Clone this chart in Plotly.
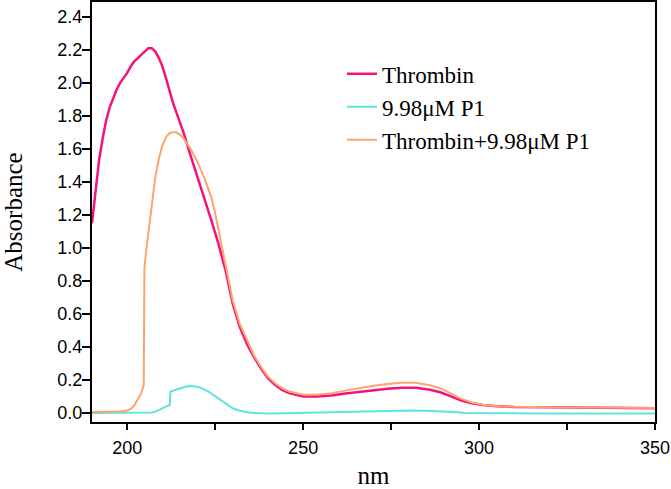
import plotly.graph_objects as go

# Thrombin
wl_thrombin = [190, 191, 192, 193, 194, 195, 196, 197, 198, 199, 200, 201, 202, 203, 204,
               205, 206, 207, 208, 209, 210, 211, 212, 213, 214, 216, 218, 220, 222, 224,
               226, 228, 230, 232, 234, 236, 238, 240, 242, 244, 246, 248, 250, 254, 258,
               262, 266, 270, 274, 278, 282, 286, 289, 292, 295, 298, 301, 305, 310, 320,
               330, 340, 350]
abs_thrombin = [1.15, 1.35, 1.53, 1.66, 1.77, 1.85, 1.91, 1.96, 2.00, 2.03, 2.06, 2.10, 2.13, 2.15, 2.17,
                2.19, 2.21, 2.21, 2.19, 2.15, 2.10, 2.03, 1.95, 1.88, 1.82, 1.70, 1.56, 1.43, 1.29, 1.16,
                1.02, 0.86, 0.66, 0.52, 0.42, 0.34, 0.27, 0.21, 0.17, 0.14, 0.12, 0.11, 0.10, 0.10, 0.105,
                0.118, 0.128, 0.138, 0.147, 0.153, 0.153, 0.14, 0.125, 0.10, 0.075, 0.058, 0.048, 0.04, 0.036, 0.034,
                0.032, 0.03, 0.028]

# 9.98uM P1
wl_p1 = [190, 200, 205, 207, 208, 209, 210, 211, 212.1, 212.3, 213, 214, 215, 216, 217,
         218, 219, 220, 221, 222, 223, 224, 225, 226, 227, 228, 229, 230, 232, 234,
         236, 240, 245, 250, 255, 260, 265, 270, 275, 280, 285, 290, 294, 296, 300,
         320, 350]
abs_p1 = [0.0, 0.0, 0.0, 0.003, 0.008, 0.016, 0.028, 0.038, 0.048, 0.13, 0.135, 0.145, 0.152, 0.158, 0.162,
          0.163, 0.162, 0.158, 0.152, 0.143, 0.13, 0.116, 0.101, 0.085, 0.068, 0.053, 0.04, 0.028, 0.013, 0.004,
          0.0, -0.003, -0.002, 0.0, 0.004, 0.007, 0.01, 0.012, 0.014, 0.014, 0.013, 0.01, 0.004, -0.001, -0.002,
          -0.003, -0.003]

# Thrombin + 9.98uM P1
wl_mix = [190, 195, 198, 200, 201, 202, 203, 204, 204.7, 204.9, 205.5, 206, 207, 208, 209,
          210, 211, 212, 213, 214, 215, 216, 218, 220, 222, 223, 224, 225, 226, 227,
          228, 230, 232, 234, 236, 238, 240, 242, 244, 246, 248, 250, 254, 258, 262,
          266, 270, 274, 278, 282, 286, 289, 292, 295, 298, 301, 305, 310, 320, 330,
          340, 350]
abs_mix = [0.005, 0.006, 0.008, 0.015, 0.025, 0.045, 0.08, 0.12, 0.17, 0.88, 1.0, 1.09, 1.28, 1.43, 1.54,
           1.62, 1.67, 1.695, 1.70, 1.70, 1.685, 1.665, 1.60, 1.52, 1.42, 1.36, 1.30, 1.21, 1.10, 0.99,
           0.89, 0.68, 0.54, 0.44, 0.35, 0.28, 0.22, 0.18, 0.15, 0.13, 0.12, 0.11, 0.11, 0.12, 0.135,
           0.152, 0.165, 0.175, 0.183, 0.183, 0.168, 0.15, 0.115, 0.085, 0.063, 0.05, 0.041, 0.037, 0.035, 0.033,
           0.031, 0.03]

serif = "Liberation Serif, Times New Roman, serif"
sans = "Liberation Sans, Arial, sans-serif"

fig = go.Figure()
fig.add_trace(go.Scatter(x=wl_thrombin, y=abs_thrombin, mode="lines", name="Thrombin",
                         line=dict(color="#f5127c", width=2.5)))
fig.add_trace(go.Scatter(x=wl_p1, y=abs_p1, mode="lines", name="9.98μM P1",
                         line=dict(color="#5ee3de", width=2)))
fig.add_trace(go.Scatter(x=wl_mix, y=abs_mix, mode="lines", name="Thrombin+9.98μM P1",
                         line=dict(color="#fba46c", width=2)))

fig.update_layout(
    width=671, height=489,
    margin=dict(l=92, r=16, t=2, b=67),
    plot_bgcolor="white", paper_bgcolor="white",
    legend=dict(x=0.444, y=0.88, xanchor="left", yanchor="top",
                font=dict(family=serif, size=23, color="black"),
                bgcolor="rgba(0,0,0,0)"),
)
fig.update_xaxes(
    range=[190, 350], tick0=200, dtick=50,
    ticks="outside", ticklen=6, tickwidth=1.5, tickcolor="black",
    minor=dict(dtick=25, ticks="outside", ticklen=6, tickwidth=1.5, tickcolor="black"),
    showline=True, linewidth=2, linecolor="black", mirror=True,
    showgrid=False, zeroline=False, ticklabelstandoff=2, automargin=False,
    tickfont=dict(family=sans, size=18, color="black"),
    title=dict(text="nm", font=dict(family=serif, size=25, color="black"), standoff=30),
)
fig.update_yaxes(
    range=[-0.055, 2.49], tick0=0, dtick=0.2, tickformat=".1f",
    ticks="outside", ticklen=8, tickwidth=1.5, tickcolor="black",
    showline=True, linewidth=2, linecolor="black", mirror=True,
    showgrid=False, zeroline=False, ticklabelstandoff=-4,
    tickfont=dict(family=sans, size=18, color="black"),
    title=dict(text="Absorbance", font=dict(family=serif, size=25, color="black"), standoff=29),
)

fig.write_html("out.html", config={"displayModeBar": False},
               post_script="document.body.style.margin='0';")
